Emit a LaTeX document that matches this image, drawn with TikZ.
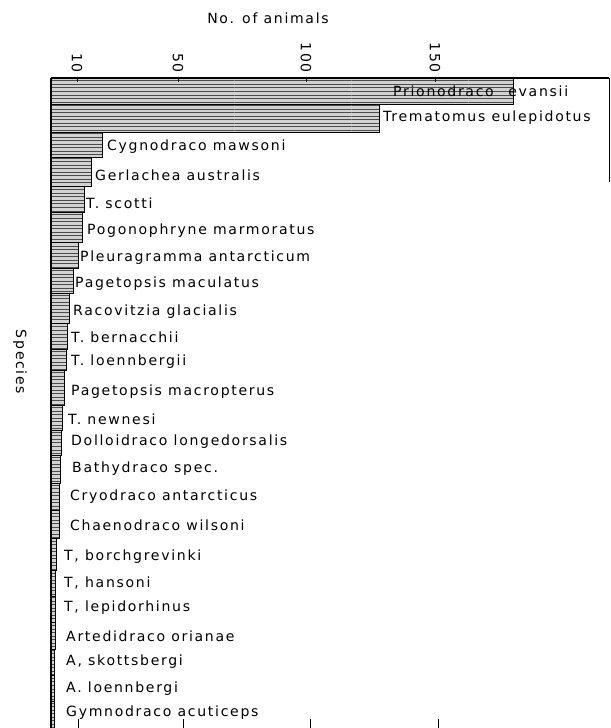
\documentclass[tikz,border=0pt]{standalone}
\usepackage{fontspec}
\usetikzlibrary{patterns}
\newfontfamily\lettering[LetterSpace=12]{DejaVu Sans}

\begin{document}
\begin{tikzpicture}[x=0.03cm,y=-0.03cm]
\tikzstyle{species}=[anchor=west,inner sep=0pt,font=\lettering\fontsize{12}{14}\selectfont]
\tikzstyle{title}=[inner sep=0pt,font=\lettering\fontsize{12}{14}\selectfont]
\tikzstyle{bar}=[draw=black,semithick,preaction={fill=gray!35},pattern=horizontal lines,pattern color=black!70]
\tikzstyle{axis}=[draw=black,line width=1.3pt]

\useasboundingbox (0,0) rectangle (610,728);

% bars, one per species
\draw [bar] (51,78) rectangle (513,104);
\draw [bar] (51,104) rectangle (379,132);
\draw [bar] (51,132) rectangle (102,157);
\draw [bar] (51,157) rectangle (91,186);
\draw [bar] (51,186) rectangle (84,212);
\draw [bar] (51,212) rectangle (82,242);
\draw [bar] (51,242) rectangle (78,268);
\draw [bar] (51,268) rectangle (73,293);
\draw [bar] (51,293) rectangle (69,323);
\draw [bar] (51,323) rectangle (67,349);
\draw [bar] (51,349) rectangle (66,370);
\draw [bar] (51,370) rectangle (64,405);
\draw [bar] (51,405) rectangle (62,430);
\draw [bar] (51,430) rectangle (61,455);
\draw [bar] (51,455) rectangle (60,483);
\draw [bar] (51,483) rectangle (59,510);
\draw [bar] (51,510) rectangle (59,538);
\draw [bar] (51,538) rectangle (56,570);
\draw [bar] (51,570) rectangle (55.5,596);
\draw [bar] (51,596) rectangle (55,622);
\draw [bar] (51,622) rectangle (55,649);
\draw [bar] (51,649) rectangle (54.5,675);
\draw [bar] (51,675) rectangle (54.5,701);
\draw [bar] (51,701) rectangle (54,728);

% axes
\draw [axis] (51,78) -- (609,78);
\draw [axis] (51,78) -- (51,728);
\draw [thin] (609,78) -- (609,182);

\draw [thick] (77,78) -- (77,82);
\draw [thick] (178,78) -- (178,82);
\draw [thick] (306,78) -- (306,82);
\draw [thick] (435,78) -- (435,82);

\draw [thick] (78,719) -- (78,728);
\draw [thick] (183,719) -- (183,728);
\draw [thick] (310,719) -- (310,728);
\draw [thick] (438,719) -- (438,728);

\node [title,anchor=east,rotate=-90] at (77,73) (t10) {10};
\node [title,anchor=east,rotate=-90] at (178,73) (t50) {50};
\node [title,anchor=east,rotate=-90] at (306,73) (t100) {100};
\node [title,anchor=east,rotate=-90] at (435,73) (t150) {150};

\node [title] at (268,18) (xlabel) {No. of animals};
\node [title,rotate=-90] at (20,362) (ylabel) {Species};

% species names
\node [species] at (393,91) (evansii) {Prionodraco\hspace{0.6em} evansii};
\node [species] at (383,118) (eulepidotus) {Trematomus eulepidotus};
\node [species] at (107,147) (mawsoni) {Cygnodraco mawsoni};
\node [species] at (95,175) (australis) {Gerlachea australis};
\node [species] at (86,203) (scotti) {T. scotti};
\node [species] at (87,231) (marmoratus) {Pogonophryne marmoratus};
\node [species] at (80,258) (antarcticum) {Pleuragramma antarcticum};
\node [species] at (75,284) (maculatus) {Pagetopsis maculatus};
\node [species] at (73,312) (glacialis) {Racovitzia glacialis};
\node [species] at (71,337) (bernacchii) {T. bernacchii};
\node [species] at (71,362) (loennbergii) {T. loennbergii};
\node [species] at (71,392) (macropterus) {Pagetopsis macropterus};
\node [species] at (68,419) (newnesi) {T. newnesi};
\node [species] at (71,442) (longedorsalis) {Dolloidraco longedorsalis};
\node [species] at (72,469) (bathydraco) {Bathydraco spec.};
\node [species] at (70,497) (antarcticus) {Cryodraco antarcticus};
\node [species] at (70,525) (wilsoni) {Chaenodraco wilsoni};
\node [species] at (64,557) (borchgrevinki) {T, borchgrevinki};
\node [species] at (64,583) (hansoni) {T, hansoni};
\node [species] at (64,608) (lepidorhinus) {T, lepidorhinus};
\node [species] at (66,636) (orianae) {Artedidraco orianae};
\node [species] at (66,662) (skottsbergi) {A, skottsbergi};
\node [species] at (66,689) (aloennbergi) {A. loennbergi};
\node [species] at (66,713) (acuticeps) {Gymnodraco acuticeps};
\end{tikzpicture}
\end{document}
